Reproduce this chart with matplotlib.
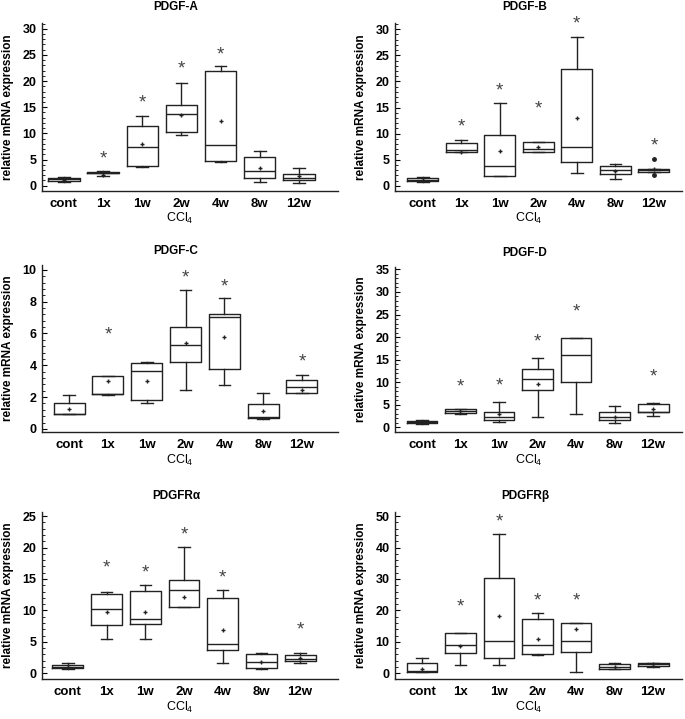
import numpy as np
import matplotlib
matplotlib.use("Agg")
import matplotlib.pyplot as plt
from matplotlib.ticker import MultipleLocator, AutoMinorLocator

plt.rcParams['font.family'] = ['Liberation Sans', 'DejaVu Sans']
plt.rcParams['mathtext.default'] = 'regular'

grupos = ["cont", "1x", "1w", "2w", "4w", "8w", "12w"]
nan = np.nan

# PDGF-A
a_lo = [0.65, 1.85, 3.6, 9.6, 4.6, 0.77, 0.57]
a_q1 = [0.9, 2.35, 3.83, 10.3, 4.8, 1.4, 1.1]
a_med = [1.2, 2.45, 7.3, 13.7, 7.7, 2.9, 1.4]
a_q3 = [1.53, 2.6, 11.5, 15.4, 22.0, 5.4, 2.2]
a_hi = [1.7, 2.75, 13.4, 19.7, 22.8, 6.7, 3.3]
a_mean = [1.1, 1.95, 7.9, 13.6, 12.4, 3.3, 1.85]
a_star = [nan, 6.0, 16.8, 23.3, 26.0, nan, nan]

# PDGF-B
b_lo = [0.76, 6.5, 1.9, 6.5, 2.5, 1.27, 2.6]
b_q1 = [0.9, 6.5, 1.9, 6.5, 4.6, 2.28, 2.6]
b_med = [1.1, 6.8, 3.7, 7.1, 7.4, 2.98, 2.95]
b_q3 = [1.4, 8.2, 9.7, 8.4, 22.4, 3.8, 3.3]
b_hi = [1.7, 8.8, 15.8, 8.4, 28.5, 4.17, 3.3]
b_mean = [1.1, 6.5, 6.6, 7.5, 13.0, 2.8, 3.2]
b_star = [nan, 12.2, 19.1, 15.6, 32.0, nan, 8.5]
b_fliers = {6: [5.1, 2.0]}

# PDGF-C
c_lo = [0.94, 2.15, 1.63, 2.45, 2.77, 0.63, 2.24]
c_q1 = [0.94, 2.22, 1.82, 4.2, 3.77, 0.67, 2.24]
c_med = [0.96, 2.22, 3.65, 5.28, 7.05, 0.75, 2.64]
c_q3 = [1.6, 3.3, 4.15, 6.4, 7.23, 1.57, 3.1]
c_hi = [2.14, 3.3, 4.2, 8.7, 8.2, 2.29, 3.42]
c_mean = [1.26, 3.0, 3.0, 5.4, 5.8, 1.11, 2.47]
c_star = [nan, 6.2, nan, 9.8, 9.2, nan, 4.5]

# PDGF-D
d_lo = [0.8, 2.95, 1.2, 2.3, 2.95, 0.96, 2.5]
d_q1 = [0.9, 3.25, 1.6, 8.3, 10.1, 1.55, 3.3]
d_med = [1.2, 3.6, 2.4, 10.7, 16.0, 2.4, 3.3]
d_q3 = [1.5, 4.06, 3.5, 12.9, 19.9, 3.5, 5.1]
d_hi = [1.6, 4.06, 5.6, 15.4, 19.9, 4.7, 5.3]
d_mean = [1.2, 3.6, 2.95, 9.7, nan, 2.4, 4.0]
d_star = [nan, 10.1, 10.3, 20.1, 26.7, nan, 12.2]

# PDGFRalfa
e_lo = [0.74, 5.45, 5.45, 10.6, 1.6, 0.64, 1.7]
e_q1 = [0.8, 7.73, 7.9, 10.6, 3.7, 0.8, 2.0]
e_med = [1.06, 10.3, 8.6, 13.2, 4.6, 1.85, 2.3]
e_q3 = [1.3, 12.55, 13.1, 14.8, 11.9, 3.0, 2.97]
e_hi = [1.7, 12.9, 14.0, 20.1, 13.2, 3.3, 3.2]
e_mean = [1.0, 9.8, 9.8, 12.2, 6.9, 1.8, 2.4]
e_star = [nan, 17.5, 16.8, 22.8, 16.0, nan, 7.7]

# PDGFRbeta
f_lo = [0.53, 2.5, 2.65, 5.7, 0.5, 1.4, 2.1]
f_q1 = [0.53, 6.5, 4.8, 6.1, 6.8, 1.5, 2.3]
f_med = [0.85, 9.0, 10.4, 9.0, 10.4, 2.1, 2.9]
f_q3 = [3.2, 12.7, 30.4, 17.2, 15.9, 3.0, 3.2]
f_hi = [4.8, 12.7, 44.3, 19.1, 15.9, 3.4, 3.4]
f_mean = [1.5, 8.7, 18.3, 10.8, 14.0, 1.9, 2.9]
f_star = [nan, 22.5, 49.6, 24.6, 24.6, nan, nan]

W, H = 685, 719
fig = plt.figure(figsize=(W / 100, H / 100), dpi=100)

# (titulo, dados, passo y, ylim, retangulo em pixels: x0, x1, topo, base, xlim, centro do titulo)
paineis = [
    ("PDGF-A", (a_lo, a_q1, a_med, a_q3, a_hi, a_mean, a_star, {}), 5, (-0.96, 31.1),
     (42, 338, 23, 190.7), (0.44, 8.0), (176, 7)),
    ("PDGF-B", (b_lo, b_q1, b_med, b_q3, b_hi, b_mean, b_star, b_fliers), 5, (-0.95, 31.2),
     (395, 682, 23, 190.7), (0.28, 7.73), (525, 7)),
    ("PDGF-C", (c_lo, c_q1, c_med, c_q3, c_hi, c_mean, c_star, {}), 2, (-0.21, 10.3),
     (42, 338, 265, 432.3), (0.30, 7.93), (176, 251)),
    ("PDGF-D", (d_lo, d_q1, d_med, d_q3, d_hi, d_mean, d_star, {}), 5, (-1.1, 35.6),
     (395, 682, 266.7, 432.3), (0.30, 7.75), (525, 253)),
    ("PDGFR\u03b1", (e_lo, e_q1, e_med, e_q3, e_hi, e_mean, e_star, {}), 5, (-0.9, 25.7),
     (42, 338, 511.7, 679), (0.33, 7.98), (176, 496)),
    ("PDGFR\u03b2", (f_lo, f_q1, f_med, f_q3, f_hi, f_mean, f_star, {}), 10, (-1.8, 51.4),
     (395, 682, 511.7, 679), (0.30, 7.75), (525, 496)),
]

cor = "#222222"
pos = np.arange(1, len(grupos) + 1)

for titulo, dados, passo, ylim, rect, xlim, tpos in paineis:
    lo, q1, med, q3, hi, media, estrela, fliers = dados
    x0, x1, topo, base = rect
    ax = fig.add_axes([x0 / W, 1 - base / H, (x1 - x0) / W, (base - topo) / H])

    stats = []
    for i in range(len(grupos)):
        stats.append(dict(whislo=lo[i], q1=q1[i], med=med[i], q3=q3[i], whishi=hi[i],
                          fliers=fliers.get(i, [])))
    ax.bxp(stats, positions=pos, widths=0.8, capwidths=0.3, showmeans=False,
           boxprops=dict(color=cor, linewidth=1.0),
           medianprops=dict(color=cor, linewidth=1.0),
           whiskerprops=dict(color=cor, linewidth=1.0),
           capprops=dict(color=cor, linewidth=1.0),
           flierprops=dict(marker='o', markersize=2.5, markerfacecolor=cor,
                           markeredgecolor=cor))
    ax.plot(pos, media, linestyle='none', marker='+', markersize=3, color=cor,
            markeredgewidth=1.0)
    for p, s in zip(pos, estrela):
        if not np.isnan(s):
            ax.annotate("*", (p, s), xytext=(0, -3.5), textcoords='offset points',
                        ha='center', va='center', fontsize=13.5, color='#444444',
                        annotation_clip=False)

    ax.set_xlim(*xlim)
    ax.set_ylim(*ylim)
    ax.set_xticks(pos)
    ax.set_xticklabels(grupos, fontsize=9.5, fontweight='bold')
    ax.yaxis.set_major_locator(MultipleLocator(passo))
    ax.yaxis.set_minor_locator(AutoMinorLocator(5))
    ax.set_yticks(np.arange(0, ylim[1], passo))
    for lab in ax.get_yticklabels():
        lab.set_fontweight('bold')
        lab.set_fontsize(9)
    ax.tick_params(axis='x', length=0, pad=5)
    ax.tick_params(axis='y', which='major', direction='in', length=3.5, width=0.8, pad=4)
    ax.tick_params(axis='y', which='minor', direction='in', length=2, width=0.6)
    for lado in ['top', 'right']:
        ax.spines[lado].set_visible(False)
    for lado in ['left', 'bottom']:
        ax.spines[lado].set_linewidth(1.0)
        ax.spines[lado].set_color(cor)

    fig.text(tpos[0] / W, 1 - tpos[1] / H, titulo, ha='center', va='center',
             fontsize=8.5, fontweight='bold')
    fig.text((x0 - 34) / W, 1 - (topo + base) / 2 / H, "relative mRNA expression",
             rotation=90, ha='center', va='center', fontsize=8.5, fontweight='bold')
    fig.text(((x0 + x1) / 2 - 10) / W, 1 - (base + 28) / H, "CCl$_4$",
             ha='center', va='center', fontsize=9)

fig.savefig("out.png", dpi=100)
